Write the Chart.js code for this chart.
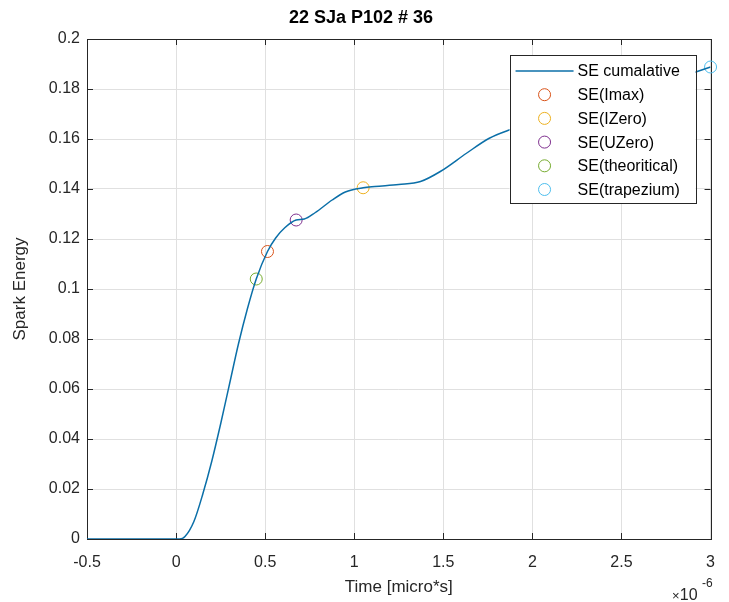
<!DOCTYPE html>
<html>
<head>
<meta charset="utf-8">
<script src="https://cdn.jsdelivr.net/npm/chart.js@4/dist/chart.umd.min.js"></script>
<style>
  html, body { margin: 0; padding: 0; background: #fff; }
  #wrap { width: 729px; height: 602px; }
</style>
</head>
<body>
<div id="wrap"><canvas id="se" width="729" height="602"></canvas></div>
<script>
// time in micro seconds (axis shows x10^-6), energy
const timeUs = [-0.5, -0.3, -0.1, 0, 0.02, 0.05, 0.1, 0.15, 0.2, 0.25, 0.3, 0.35, 0.4, 0.45, 0.513, 0.56, 0.61, 0.674, 0.72, 0.78, 0.876, 0.95, 1.05, 1.116, 1.25, 1.372, 1.483, 1.63, 1.758, 1.87, 2.0, 2.2, 2.4, 2.6, 2.8, 3.0];
const energy = [0, 0, 0, 0, 0, 0.001, 0.007, 0.018, 0.031, 0.046, 0.062, 0.078, 0.092, 0.104, 0.115, 0.1205, 0.1245, 0.1276, 0.128, 0.1305, 0.1356, 0.1388, 0.1405, 0.141, 0.1418, 0.143, 0.147, 0.1543, 0.1603, 0.1636, 0.1665, 0.1705, 0.1745, 0.179, 0.184, 0.1888];

const pointNames = ['SE(Imax)', 'SE(IZero)', 'SE(UZero)', 'SE(theoritical)', 'SE(trapezium)'];
const pointTimes = [0.513, 1.05, 0.674, 0.45, 3.0];
const pointValues = [0.115, 0.1405, 0.1276, 0.104, 0.1888];
const pointColors = ['#D95319', '#EDB120', '#7E2F8E', '#77AC30', '#4DBEEE'];

const xTicks = [-0.5, 0, 0.5, 1, 1.5, 2, 2.5, 3];
const xTickLabels = ['-0.5', '0', '0.5', '1', '1.5', '2', '2.5', '3'];
const yTicks = [0, 0.02, 0.04, 0.06, 0.08, 0.1, 0.12, 0.14, 0.16, 0.18, 0.2];
const yTickLabels = ['0', '0.02', '0.04', '0.06', '0.08', '0.1', '0.12', '0.14', '0.16', '0.18', '0.2'];

const lineColor = '#0b6fa8';
const axisColor = '#262626';
const fontName = '"Liberation Sans", Arial, Helvetica, sans-serif';

let datasets = [{
  label: 'SE cumalative',
  data: timeUs.map((t, i) => ({x: t, y: energy[i]})),
  borderColor: lineColor,
  borderWidth: 1.5,
  pointRadius: 0,
  cubicInterpolationMode: 'monotone',
  fill: false
}];
pointNames.forEach((name, i) => {
  datasets.push({
    label: name,
    data: [{x: pointTimes[i], y: pointValues[i]}],
    showLine: false,
    borderColor: pointColors[i],
    backgroundColor: 'rgba(0,0,0,0)',
    pointRadius: 6,
    pointBorderWidth: 1,
    clip: false
  });
});

// box round the axes with ticks pointing inwards, like matlab
const boxPlugin = {
  id: 'box',
  beforeDatasetsDraw(chart) {
    const ctx = chart.ctx, a = chart.chartArea;
    const xs = chart.scales.x, ys = chart.scales.y;
    ctx.save();
    ctx.strokeStyle = axisColor;
    ctx.lineWidth = 1;
    ctx.beginPath();
    xTicks.forEach(v => {
      const px = Math.round(xs.getPixelForValue(v)) + 0.5;
      ctx.moveTo(px, a.bottom); ctx.lineTo(px, a.bottom - 6);
      ctx.moveTo(px, a.top); ctx.lineTo(px, a.top + 6);
    });
    yTicks.forEach(v => {
      const py = Math.round(ys.getPixelForValue(v)) + 0.5;
      ctx.moveTo(a.left, py); ctx.lineTo(a.left + 6, py);
      ctx.moveTo(a.right, py); ctx.lineTo(a.right - 6, py);
    });
    ctx.stroke();
    ctx.strokeRect(Math.round(a.left) + 0.5, Math.round(a.top) + 0.5, Math.round(a.right - a.left), Math.round(a.bottom - a.top));
    ctx.restore();
  },
  afterDatasetsDraw(chart) {
    const ctx = chart.ctx, a = chart.chartArea;
    // legend box
    const bw = 186, bh = 148;
    const bx = a.right - 15 - bw, by = a.top + 16;
    ctx.save();
    ctx.fillStyle = '#fff';
    ctx.fillRect(bx, by, bw, bh);
    ctx.strokeStyle = axisColor;
    ctx.lineWidth = 1;
    ctx.strokeRect(Math.round(bx) + 0.5, Math.round(by) + 0.5, bw, bh);
    ctx.font = '16px ' + fontName;
    ctx.textBaseline = 'middle';
    ctx.textAlign = 'left';
    chart.data.datasets.forEach((ds, i) => {
      const cy = by + 16 + i * 23.7;
      if (i === 0) {
        ctx.strokeStyle = ds.borderColor;
        ctx.lineWidth = 1.5;
        ctx.beginPath();
        ctx.moveTo(bx + 6, cy); ctx.lineTo(bx + 64, cy);
        ctx.stroke();
      } else {
        ctx.strokeStyle = ds.borderColor;
        ctx.lineWidth = 1;
        ctx.beginPath();
        ctx.arc(bx + 35, cy, 6, 0, Math.PI * 2);
        ctx.stroke();
      }
      ctx.fillStyle = '#000';
      ctx.fillText(ds.label, bx + 68, cy + 1);
    });
    ctx.restore();
  },
  afterDraw(chart) {
    const ctx = chart.ctx, a = chart.chartArea;
    ctx.save();
    ctx.fillStyle = axisColor;
    ctx.textAlign = 'right';
    ctx.textBaseline = 'alphabetic';
    ctx.font = '12px ' + fontName;
    ctx.fillText('-6', a.right + 2, 587);
    ctx.font = '16px ' + fontName;
    ctx.fillText('10', a.right - 13, 600);
    ctx.font = '13px ' + fontName;
    ctx.fillText('\u00d7', a.right - 31, 600);
    ctx.restore();
  }
};

new Chart(document.getElementById('se'), {
  type: 'line',
  data: {datasets: datasets},
  options: {
    responsive: false,
    animation: false,
    events: [],
    layout: {padding: {left: 0, right: 7, top: 0, bottom: 0}},
    plugins: {
      legend: {display: false},
      tooltip: {enabled: false},
      title: {
        display: true,
        text: '22 SJa P102 # 36',
        color: '#000',
        font: {family: fontName, size: 18, weight: 'bold', lineHeight: 1.2},
        padding: {top: 7, bottom: 10.4}
      }
    },
    scales: {
      x: {
        type: 'linear',
        min: -0.5,
        max: 3,
        afterBuildTicks(scale) { scale.ticks = xTicks.map(v => ({value: v})); },
        afterFit(scale) { scale.height = 63; },
        grid: {color: '#e0e0e0', drawTicks: false},
        border: {display: false},
        ticks: {
          color: axisColor,
          padding: 14,
          autoSkip: false,
          maxRotation: 0,
          font: {family: fontName, size: 16},
          callback(v) { const k = xTicks.indexOf(v); return k >= 0 ? xTickLabels[k] : ''; }
        },
        title: {
          display: true,
          text: 'Time [micro*s]',
          color: axisColor,
          font: {family: fontName, size: 17, lineHeight: 1.2},
          padding: {top: 0, bottom: 4}
        }
      },
      y: {
        min: 0,
        max: 0.2,
        afterBuildTicks(scale) { scale.ticks = yTicks.map(v => ({value: v})); },
        afterFit(scale) { scale.width = 87; },
        grid: {color: '#e0e0e0', drawTicks: false},
        border: {display: false},
        ticks: {
          color: axisColor,
          padding: 7,
          font: {family: fontName, size: 16},
          callback(v) { const k = yTicks.indexOf(v); return k >= 0 ? yTickLabels[k] : ''; }
        },
        title: {
          display: true,
          text: 'Spark Energy',
          color: axisColor,
          font: {family: fontName, size: 17, lineHeight: 1.2},
          padding: {top: 10, bottom: 0}
        }
      }
    }
  },
  plugins: [boxPlugin]
});
</script>
</body>
</html>
